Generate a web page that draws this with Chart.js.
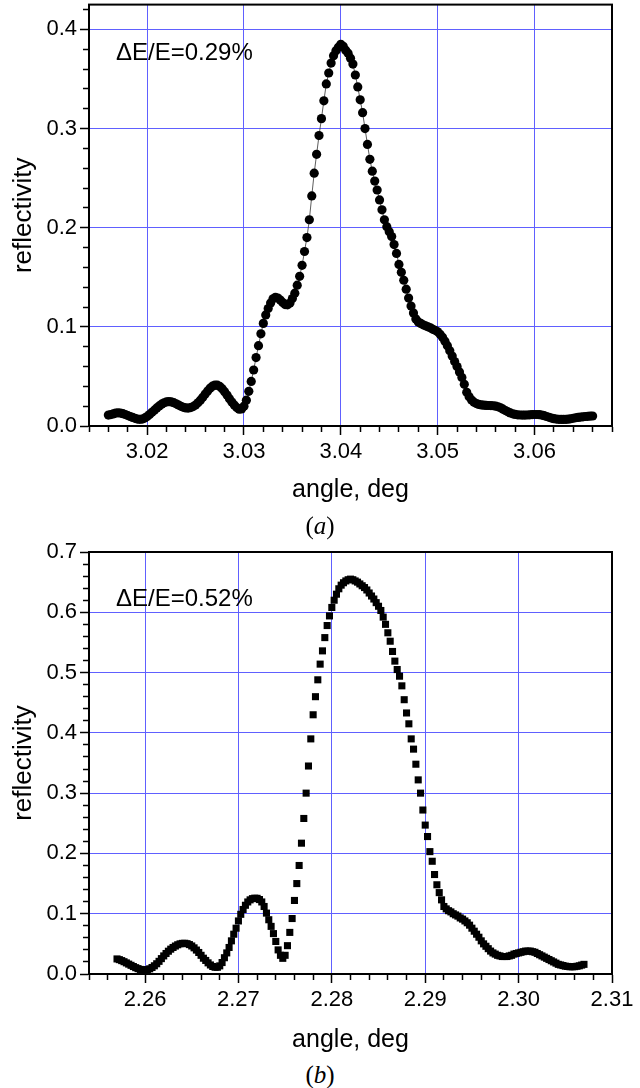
<!DOCTYPE html>
<html>
<head>
<meta charset="utf-8">
<script src="https://cdn.jsdelivr.net/npm/chart.js@4"></script>
<style>
  body { margin: 0; background: #fff; }
  #page { position: relative; width: 640px; height: 1088px; overflow: hidden; font-family: "Liberation Sans", Arial, sans-serif; color: #000; }
  canvas { position: absolute; left: 0; }
  #chartA { top: 0; }
  #chartB { top: 530px; }
  .note { position: absolute; left: 116px; font-size: 24px; line-height: 24px; white-space: nowrap; }
  .caption { position: absolute; left: 0; width: 640px; text-align: center; font-family: "Liberation Serif", "Times New Roman", serif; font-size: 25px; line-height: 26px; }
</style>
</head>
<body>
<div id="page">
  <canvas id="chartA" width="640" height="510"></canvas>
  <canvas id="chartB" width="640" height="530"></canvas>
  <div class="note" style="top:40px">ΔE/E=0.29%</div>
  <div class="note" style="top:586px">ΔE/E=0.52%</div>
  <div class="caption" style="top:513px">(<i>a</i>)</div>
  <div class="caption" style="top:1062px">(<i>b</i>)</div>
</div>
<script>
// (a) circles
const ANGLE_A = [
  3.016,3.01625,3.0165,3.01675, 3.017,3.01725,3.0175,3.01775, 3.018,3.01825,3.0185,3.01875, 3.019,3.01925,3.0195,3.01975,
  3.020,3.02025,3.0205,3.02075, 3.021,3.02125,3.0215,3.02175, 3.022,3.02225,3.0225,3.02275, 3.023,3.02325,3.0235,3.02375,
  3.024,3.02425,3.0245,3.02475, 3.025,3.02525,3.0255,3.02575, 3.026,3.02625,3.0265,3.02675, 3.027,3.02725,3.0275,3.02775,
  3.028,3.02825,3.0285,3.02875, 3.029,3.02925,3.0295,3.02975, 3.030,3.03025,3.0305,3.03075, 3.031,3.03125,3.0315,3.03175,
  3.032,3.03225,3.0325,3.03275, 3.033,3.03325,3.0335,3.03375, 3.034,3.03425,3.0345,3.03475, 3.035,3.03525,3.0355,3.03575,
  3.036,3.03625,3.0365,3.03675, 3.037,3.03725,3.0375,3.03775, 3.038,3.03825,3.0385,3.03875, 3.039,3.03925,3.0395,3.03975,
  3.040,3.04025,3.0405,3.04075, 3.041,3.04125,3.0415,3.04175, 3.042,3.04225,3.0425,3.04275, 3.043,3.04325,3.0435,3.04375,
  3.044,3.04425,3.0445,3.04475, 3.045,3.04525,3.0455,3.04575, 3.046,3.04625,3.0465,3.04675, 3.047,3.04725,3.0475,3.04775,
  3.048,3.04825,3.0485,3.04875, 3.049,3.04925,3.0495,3.04975, 3.050,3.05025,3.0505,3.05075, 3.051,3.05125,3.0515,3.05175,
  3.052,3.05225,3.0525,3.05275, 3.053,3.05325,3.0535,3.05375, 3.054,3.05425,3.0545,3.05475, 3.055,3.05525,3.0555,3.05575,
  3.056,3.05625,3.0565,3.05675, 3.057,3.05725,3.0575,3.05775, 3.058,3.05825,3.0585,3.05875, 3.059,3.05925,3.0595,3.05975,
  3.060,3.06025,3.0605,3.06075, 3.061,3.06125,3.0615,3.06175, 3.062,3.06225,3.0625,3.06275, 3.063,3.06325,3.0635,3.06375,
  3.064,3.06425,3.0645,3.06475, 3.065,3.06525,3.0655,3.06575, 3.066
];
const REFL_A = [
  0.0110,0.0115,0.0122,0.0130,0.0133,0.0130,0.0124,0.0116,0.0106,0.0096,0.0086,
  0.0077,0.0070,0.0067,0.0070,0.0080,0.0096,0.0116,0.0138,0.0160,0.0182,
  0.0202,0.0220,0.0234,0.0243,0.0246,0.0243,0.0235,0.0224,0.0211,0.0198,
  0.0188,0.0182,0.0181,0.0186,0.0196,0.0212,0.0234,0.0260,0.0290,0.0322,
  0.0353,0.0381,0.0402,0.0413,0.0412,0.0399,0.0376,0.0346,0.0312,0.0276,
  0.0242,0.0211,0.0186,0.0170,0.0172,0.0200,0.0260,0.0350,0.0450,0.0565,
  0.0690,0.0810,0.0930,0.1035,0.1120,0.1185,0.1240,0.1283,0.1298,0.1290,
  0.1270,0.1245,0.1225,0.1222,0.1240,0.1285,0.1340,0.1420,0.1510,0.1620,
  0.1760,0.1900,0.2080,0.2320,0.2550,0.2740,0.2930,0.3100,0.3280,0.3450,
  0.3560,0.3660,0.3735,0.3785,0.3820,0.3850,0.3830,0.3790,0.3760,0.3710,
  0.3650,0.3540,0.3420,0.3290,0.3160,0.3000,0.2840,0.2690,0.2570,0.2470,
  0.2380,0.2280,0.2180,0.2080,0.2010,0.1960,0.1910,0.1830,0.1740,0.1630,
  0.1550,0.1470,0.1380,0.1290,0.1210,0.1140,0.1080,0.1050,0.1035,0.1020,
  0.1010,0.1000,0.0990,0.0975,0.0965,0.0950,0.0925,0.0895,0.0855,0.0810,
  0.0760,0.0705,0.0650,0.0600,0.0545,0.0490,0.0420,0.0340,0.0295,0.0262,
  0.0240,0.0226,0.0218,0.0213,0.0210,0.0208,0.0207,0.0206,0.0204,0.0200,
  0.0193,0.0183,0.0170,0.0156,0.0143,0.0132,0.0123,0.0117,0.0113,0.0111,
  0.0110,0.0110,0.0111,0.0113,0.0115,0.0116,0.0116,0.0114,0.0110,0.0104,
  0.0096,0.0088,0.0080,0.0074,0.0070,0.0067,0.0066,0.0066,0.0067,0.0069,
  0.0073,0.0078,0.0083,0.0087,0.0090,0.0093,0.0096,0.0098,0.0100,0.0101
];

// (b) squares
const ANGLE_B = [
  2.257,2.25725,2.2575,2.25775, 2.258,2.25825,2.2585,2.25875, 2.259,2.25925,2.2595,2.25975, 2.260,2.26025,2.2605,2.26075,
  2.261,2.26125,2.2615,2.26175, 2.262,2.26225,2.2625,2.26275, 2.263,2.26325,2.2635,2.26375, 2.264,2.26425,2.2645,2.26475,
  2.265,2.26525,2.2655,2.26575, 2.266,2.26625,2.2665,2.26675, 2.267,2.26725,2.2675,2.26775, 2.268,2.26825,2.2685,2.26875,
  2.269,2.26925,2.2695,2.26975, 2.270,2.27025,2.2705,2.27075, 2.271,2.27125,2.2715,2.27175, 2.272,2.27225,2.2725,2.27275,
  2.273,2.27325,2.2735,2.27375, 2.274,2.27425,2.2745,2.27475, 2.275,2.27525,2.2755,2.27575, 2.276,2.27625,2.2765,2.27675,
  2.277,2.27725,2.2775,2.27775, 2.278,2.27825,2.2785,2.27875, 2.279,2.27925,2.2795,2.27975, 2.280,2.28025,2.2805,2.28075,
  2.281,2.28125,2.2815,2.28175, 2.282,2.28225,2.2825,2.28275, 2.283,2.28325,2.2835,2.28375, 2.284,2.28425,2.2845,2.28475,
  2.285,2.28525,2.2855,2.28575, 2.286,2.28625,2.2865,2.28675, 2.287,2.28725,2.2875,2.28775, 2.288,2.28825,2.2885,2.28875,
  2.289,2.28925,2.2895,2.28975, 2.290,2.29025,2.2905,2.29075, 2.291,2.29125,2.2915,2.29175, 2.292,2.29225,2.2925,2.29275,
  2.293,2.29325,2.2935,2.29375, 2.294,2.29425,2.2945,2.29475, 2.295,2.29525,2.2955,2.29575, 2.296,2.29625,2.2965,2.29675,
  2.297,2.29725,2.2975,2.29775, 2.298,2.29825,2.2985,2.29875, 2.299,2.29925,2.2995,2.29975, 2.300,2.30025,2.3005,2.30075,
  2.301,2.30125,2.3015,2.30175, 2.302,2.30225,2.3025,2.30275, 2.303,2.30325,2.3035,2.30375, 2.304,2.30425,2.3045,2.30475,
  2.305,2.30525,2.3055,2.30575, 2.306,2.30625,2.3065,2.30675, 2.307
];
const REFL_B = [
  0.0250,0.0238,0.0222,0.0204,0.0184,0.0164,0.0144,0.0124,0.0105,0.0089,0.0076,
  0.0068,0.0066,0.0072,0.0086,0.0108,0.0136,0.0170,0.0210,0.0255,0.0300,
  0.0340,0.0378,0.0412,0.0440,0.0464,0.0485,0.0500,0.0508,0.0510,0.0503,
  0.0488,0.0465,0.0434,0.0397,0.0357,0.0310,0.0262,0.0225,0.0185,0.0150,
  0.0125,0.0112,0.0112,0.0135,0.0190,0.0270,0.0350,0.0440,0.0550,0.0660,
  0.0760,0.0880,0.0990,0.1070,0.1140,0.1195,0.1230,0.1250,0.1258,0.1255,
  0.1235,0.1195,0.1120,0.1010,0.0900,0.0790,0.0670,0.0540,0.0400,0.0310,
  0.0260,0.0310,0.0470,0.0690,0.0920,0.1220,0.1500,0.1800,0.2170,0.2580,
  0.3000,0.3450,0.3900,0.4300,0.4600,0.4880,0.5140,0.5360,0.5580,0.5780,
  0.5940,0.6080,0.6200,0.6300,0.6390,0.6450,0.6490,0.6520,0.6540,0.6550,
  0.6540,0.6520,0.6500,0.6470,0.6440,0.6410,0.6370,0.6320,0.6270,0.6220,
  0.6160,0.6100,0.6030,0.5920,0.5800,0.5660,0.5520,0.5350,0.5190,0.5050,
  0.4940,0.4780,0.4550,0.4330,0.4150,0.3900,0.3730,0.3480,0.3220,0.3000,
  0.2720,0.2470,0.2280,0.2030,0.1870,0.1650,0.1480,0.1350,0.1230,0.1120,
  0.1080,0.1050,0.1030,0.1000,0.0980,0.0960,0.0930,0.0910,0.0880,0.0850,
  0.0810,0.0760,0.0710,0.0660,0.0610,0.0550,0.0500,0.0460,0.0420,0.0380,
  0.0350,0.0330,0.0310,0.0300,0.0290,0.0290,0.0290,0.0300,0.0310,0.0330,
  0.0340,0.0350,0.0360,0.0370,0.0380,0.0380,0.0380,0.0370,0.0360,0.0340,
  0.0320,0.0300,0.0280,0.0260,0.0240,0.0220,0.0200,0.0180,0.0160,0.0150,
  0.0140,0.0130,0.0125,0.0120,0.0120,0.0122,0.0128,0.0136,0.0148,0.0160
];

const X_LABELS_A = ["3.02", "3.03", "3.04", "3.05", "3.06"];
const Y_LABELS_A = ["0.0", "0.1", "0.2", "0.3", "0.4"];
const X_LABELS_B = ["2.26", "2.27", "2.28", "2.29", "2.30", "2.31"];
const Y_LABELS_B = ["0.0", "0.1", "0.2", "0.3", "0.4", "0.5", "0.6", "0.7"];

const GRID_BLUE = "rgb(96,96,255)";
const NONE = "rgba(0,0,0,0)";

Chart.defaults.color = "#000";
Chart.defaults.font.family = "'Liberation Sans', Arial, sans-serif";

function labelFor(v, labels) {
  return labels.find(l => Math.abs(parseFloat(l) - v) < 1e-7);
}

function isMajor(c, labels) {
  return !!(c.tick && labelFor(c.tick.value, labels) !== undefined);
}

// box round the plot area
const frame = {
  id: "frame",
  afterDraw(chart) {
    const { ctx, chartArea: a } = chart;
    ctx.save();
    ctx.strokeStyle = "#000";
    ctx.lineWidth = 2;
    ctx.strokeRect(a.left, a.top, a.right - a.left, a.bottom - a.top);
    ctx.restore();
  }
};

function xAxis(min, max, labels, height) {
  return {
    type: "linear",
    position: "bottom",
    min: min,
    max: max,
    bounds: "data",
    ticks: {
      stepSize: 0.002,
      autoSkip: false,
      includeBounds: false,
      maxRotation: 0,
      minRotation: 0,
      padding: 4,
      font: { size: 22 },
      callback: v => labelFor(v, labels) || ""
    },
    grid: {
      color: c => isMajor(c, labels) ? GRID_BLUE : NONE,
      lineWidth: 1,
      tickColor: "#000",
      tickWidth: 1.5,
      tickLength: 9,
      tickBorderDash: c => isMajor(c, labels) ? [] : [5, 20]
    },
    border: { color: "#000", width: 2 },
    title: { display: true, text: "angle, deg", font: { size: 25 }, padding: { top: 0, bottom: 5 } },
    afterFit: s => { s.height = height; s.paddingLeft = 0; s.paddingRight = 0; }
  };
}

function yAxis(max, labels) {
  return {
    type: "linear",
    position: "left",
    min: 0,
    max: max,
    bounds: "data",
    ticks: {
      stepSize: 0.02,
      autoSkip: false,
      includeBounds: false,
      padding: 3,
      font: { size: 22 },
      callback: v => labelFor(v, labels) || ""
    },
    grid: {
      color: c => isMajor(c, labels) ? GRID_BLUE : NONE,
      lineWidth: 1,
      tickColor: "#000",
      tickWidth: 1.5,
      tickLength: 9,
      tickBorderDash: c => isMajor(c, labels) ? [] : [0, 3, 5, 20]
    },
    border: { color: "#000", width: 2 },
    title: { display: true, text: "reflectivity", font: { size: 26 }, padding: { top: 8, bottom: 0 } },
    afterFit: s => { s.width = 89; s.paddingTop = 0; s.paddingBottom = 0; }
  };
}

function points(xs, ys) {
  return xs.map((x, i) => ({ x: x, y: ys[i] }));
}

new Chart(document.getElementById("chartA"), {
  type: "scatter",
  data: {
    datasets: [{
      data: points(ANGLE_A, REFL_A),
      showLine: true,
      borderColor: "#333",
      borderWidth: 0.8,
      pointStyle: "circle",
      pointRadius: 4.6,
      pointBackgroundColor: "#000",
      pointBorderWidth: 0,
      clip: false
    }]
  },
  options: {
    responsive: false,
    animation: false,
    events: [],
    layout: { padding: { left: 0, right: 28, top: 4, bottom: 0 } },
    plugins: { legend: { display: false }, tooltip: { enabled: false } },
    scales: {
      x: xAxis(3.014, 3.068, X_LABELS_A, 84),
      y: yAxis(0.425, Y_LABELS_A)
    }
  },
  plugins: [frame]
});

new Chart(document.getElementById("chartB"), {
  type: "scatter",
  data: {
    datasets: [{
      data: points(ANGLE_B, REFL_B),
      showLine: false,
      pointStyle: "rect",
      pointRadius: 5,
      pointBackgroundColor: "#000",
      pointBorderWidth: 0,
      clip: false
    }]
  },
  options: {
    responsive: false,
    animation: false,
    events: [],
    layout: { padding: { left: 0, right: 28, top: 22, bottom: 0 } },
    plugins: { legend: { display: false }, tooltip: { enabled: false } },
    scales: {
      x: xAxis(2.254, 2.31, X_LABELS_B, 86),
      y: yAxis(0.7, Y_LABELS_B)
    }
  },
  plugins: [frame]
});
</script>
</body>
</html>
